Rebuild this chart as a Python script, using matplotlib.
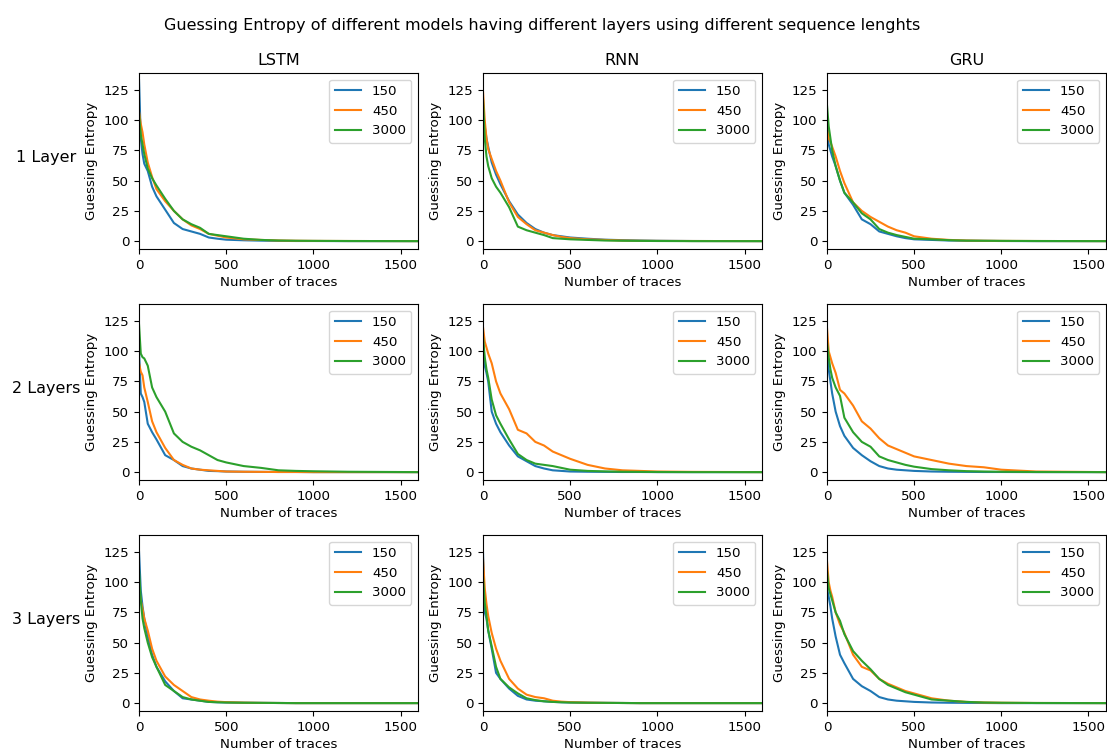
import numpy as np
import matplotlib
matplotlib.use('Agg')
from matplotlib import pyplot as plt

models = ['LSTM', 'RNN', 'GRU']
layers = ['1 Layer', '2 Layers', '3 Layers']
seq_lengths = ['150', '450', '3000']

# number of traces where the guessing entropy was sampled
traces = [0, 10, 20, 30, 50, 75, 100, 150, 200, 250, 300, 350, 400, 450, 500,
          600, 700, 800, 900, 1000, 1200, 1600]

# 1 layer
lstm1_150 = [133, 85, 72, 64, 58, 45, 37, 26, 15, 10, 8, 6, 3, 2, 1.2, 0.7, 0.4, 0.2, 0.1, 0.1, 0, 0]
lstm1_450 = [107, 97, 90, 80, 65, 53, 43, 33, 25, 18, 13, 10, 6, 4.5, 3, 1.5, 1, 0.5, 0.3, 0.2, 0.1, 0]
lstm1_3000 = [105, 88, 80, 72, 60, 52, 46, 35, 25, 18, 14, 11, 6, 5, 4, 2, 1, 0.5, 0.3, 0.2, 0.1, 0]
rnn1_150 = [110, 95, 85, 78, 65, 55, 47, 33, 22, 15, 10, 7, 5, 4, 3, 2, 1.2, 0.8, 0.5, 0.3, 0.1, 0]
rnn1_450 = [124, 100, 85, 76, 68, 58, 50, 32, 20, 14, 9, 7, 5, 3.5, 2.5, 1.5, 1, 0.5, 0.3, 0.2, 0.1, 0]
rnn1_3000 = [118, 85, 70, 62, 52, 45, 40, 28, 12, 9, 7, 5, 2.5, 2, 1.5, 1, 0.5, 0.3, 0.2, 0.1, 0, 0]
gru1_150 = [100, 80, 75, 70, 62, 50, 40, 30, 18, 14, 8, 6, 4, 2.5, 1.5, 1, 0.5, 0.3, 0.2, 0.1, 0, 0]
gru1_450 = [95, 85, 82, 78, 70, 58, 48, 32, 25, 20, 16, 12, 9, 7, 4, 2, 1, 0.5, 0.3, 0.2, 0.1, 0]
gru1_3000 = [113, 95, 85, 75, 62, 50, 40, 32, 23, 18, 10, 7, 5, 3.5, 2, 1.5, 0.8, 0.4, 0.3, 0.2, 0.1, 0]

# 2 layers
lstm2_150 = [100, 65, 62, 58, 40, 33, 27, 14, 10, 5, 3, 2, 1, 0.8, 0.5, 0.3, 0.2, 0.1, 0.1, 0, 0, 0]
lstm2_450 = [90, 83, 80, 70, 58, 42, 33, 20, 10, 6, 3, 2, 1.5, 1, 0.5, 0.3, 0.2, 0.1, 0.1, 0, 0, 0]
lstm2_3000 = [122, 98, 95, 94, 88, 70, 62, 50, 32, 25, 21, 18, 14, 10, 8, 5, 3.5, 1.5, 1, 0.7, 0.3, 0]
rnn2_150 = [110, 88, 82, 75, 50, 40, 33, 22, 13, 9, 5, 3, 1.5, 1, 0.5, 0.3, 0.2, 0.1, 0.1, 0, 0, 0]
rnn2_450 = [120, 108, 103, 98, 90, 75, 65, 52, 35, 32, 25, 22, 17, 14, 11, 6, 3, 1.5, 1, 0.5, 0.2, 0]
rnn2_3000 = [112, 95, 85, 78, 60, 47, 40, 27, 15, 10, 7, 6, 5, 3.5, 2, 1, 0.6, 0.3, 0.2, 0.1, 0, 0]
gru2_150 = [100, 85, 75, 65, 50, 38, 30, 20, 14, 9, 5, 3, 2, 1.5, 1, 0.5, 0.3, 0.2, 0.1, 0.1, 0, 0]
gru2_450 = [120, 100, 95, 90, 82, 68, 65, 55, 42, 36, 28, 22, 19, 16, 13, 10, 7, 5, 4, 2, 0.5, 0]
gru2_3000 = [108, 95, 85, 78, 70, 63, 45, 33, 25, 21, 13, 10, 8, 6, 4.5, 2.5, 1.5, 0.8, 0.5, 0.3, 0.1, 0]

# 3 layers
lstm3_150 = [125, 93, 80, 70, 55, 40, 30, 18, 10, 4, 3, 2, 1, 0.7, 0.5, 0.3, 0.2, 0.1, 0, 0, 0, 0]
lstm3_450 = [95, 85, 78, 70, 60, 45, 35, 22, 15, 10, 5, 3, 2, 1.2, 0.8, 0.4, 0.2, 0.1, 0, 0, 0, 0]
lstm3_3000 = [110, 85, 70, 62, 50, 38, 30, 15, 10, 5, 3, 2, 1, 0.7, 0.5, 0.3, 0.2, 0.1, 0, 0, 0, 0]
rnn3_150 = [125, 75, 70, 60, 45, 25, 20, 12, 6, 3, 2, 1.5, 1, 0.7, 0.5, 0.3, 0.2, 0.1, 0, 0, 0, 0]
rnn3_450 = [120, 95, 82, 72, 58, 45, 35, 20, 12, 7, 5, 4, 2, 1.2, 0.8, 0.4, 0.2, 0.1, 0, 0, 0, 0]
rnn3_3000 = [105, 83, 72, 60, 47, 30, 20, 13, 8, 4, 2.5, 1.5, 1, 0.7, 0.5, 0.3, 0.2, 0.1, 0, 0, 0, 0]
gru3_150 = [95, 88, 80, 70, 55, 40, 33, 20, 14, 10, 5, 3, 2, 1.5, 1, 0.5, 0.3, 0.2, 0.1, 0, 0, 0]
gru3_450 = [118, 100, 93, 88, 75, 65, 58, 40, 30, 27, 20, 16, 13, 10, 8, 4, 2, 1, 0.5, 0.3, 0.1, 0]
gru3_3000 = [110, 95, 90, 85, 75, 68, 57, 43, 35, 28, 20, 15, 12, 9, 7, 3, 2, 1, 0.5, 0.3, 0.1, 0]

results = [
    [[lstm1_150, lstm1_450, lstm1_3000], [rnn1_150, rnn1_450, rnn1_3000], [gru1_150, gru1_450, gru1_3000]],
    [[lstm2_150, lstm2_450, lstm2_3000], [rnn2_150, rnn2_450, rnn2_3000], [gru2_150, gru2_450, gru2_3000]],
    [[lstm3_150, lstm3_450, lstm3_3000], [rnn3_150, rnn3_450, rnn3_3000], [gru3_150, gru3_450, gru3_3000]],
]

plt.rcParams['font.size'] = 9.6

fig, axes = plt.subplots(3, 3, figsize=(11.07, 7.51), dpi=100)
fig.subplots_adjust(left=0.1256, right=0.999, bottom=0.0533, top=0.9028,
                    wspace=0.233, hspace=0.3125)

for i in range(3):
    for j in range(3):
        ax = axes[i, j]
        for k in range(3):
            ax.plot(traces, results[i][j][k], label=seq_lengths[k])
        ax.set_xlim(0, 1600)
        ax.set_ylim(-6.5, 139)
        ax.set_yticks([0, 25, 50, 75, 100, 125])
        ax.set_xlabel('Number of traces', labelpad=3)
        ax.set_ylabel('Guessing Entropy')
        ax.legend(loc='upper right')
        if i == 0:
            ax.set_title(models[j], fontsize=11.5)
    # row label on the left of each row
    pos = axes[i, 0].get_position()
    fig.text(0.042, pos.y0 + pos.height * 0.52, layers[i], ha='center', va='center', fontsize=11.5)

fig.suptitle('Guessing Entropy of different models having different layers using different sequence lenghts',
             x=0.49, y=0.976, fontsize=11.5)

plt.savefig('out.png')
